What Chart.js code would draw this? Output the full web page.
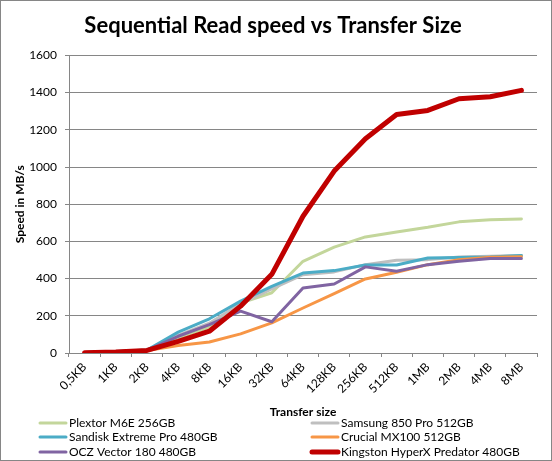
<!DOCTYPE html>
<html>
<head>
<meta charset="utf-8">
<title>Sequential Read speed vs Transfer Size</title>
<script src="https://cdn.jsdelivr.net/npm/chart.js@4.4.1/dist/chart.umd.min.js"></script>
<style>
  html, body { margin: 0; padding: 0; background: #fff; }
  #wrap { width: 552px; height: 461px; }
</style>
</head>
<body>
<div id="wrap"><canvas id="readChart" width="552" height="461"></canvas></div>
<script>
// Data (MB/s)
const transferSizes = ['0,5KB', '1KB', '2KB', '4KB', '8KB', '16KB', '32KB', '64KB', '128KB', '256KB', '512KB', '1MB', '2MB', '4MB', '8MB'];
const plextorM6E = [3, 7, 15, 82, 140, 268, 324, 493, 569, 624, 651, 676, 705, 716, 721];
const samsung850Pro = [3, 7, 15, 95, 160, 265, 345, 421, 436, 475, 499, 502, 516, 520, 524];
const sandiskExtremePro = [3, 8, 16, 112, 184, 279, 358, 430, 443, 473, 473, 511, 513, 516, 524];
const crucialMX100 = [2, 6, 14, 40, 59, 103, 162, 242, 319, 398, 434, 475, 502, 515, 517];
const oczVector180 = [3, 7, 15, 90, 153, 225, 168, 350, 371, 463, 440, 475, 493, 508, 508];
const kingstonPredator = [2, 6, 14, 63, 117, 252, 423, 735, 978, 1152, 1282, 1304, 1367, 1378, 1412];
const yTicks = [0, 200, 400, 600, 800, 1000, 1200, 1400, 1600];

const FONT = 'Lato, "Open Sans", sans-serif';
const GRID = '#868686';

function series(label, data, color, width, order) {
    return {
        label: label,
        data: data,
        borderColor: color,
        backgroundColor: color,
        borderWidth: width,
        pointRadius: 0,
        pointHoverRadius: 0,
        tension: 0,
        borderJoinStyle: 'round',
        borderCapStyle: 'round',
        order: order
    };
}

// white background + outer frame
const framePlugin = {
    id: 'frame',
    beforeDraw(chart) {
        const c = chart.ctx;
        c.save();
        c.fillStyle = '#fff';
        c.fillRect(0, 0, chart.width, chart.height);
        c.strokeStyle = GRID;
        c.lineWidth = 1;
        c.strokeRect(0.5, 0.5, chart.width - 1, chart.height - 1);
        c.restore();
    }
};

// two-column legend like the Excel one
const legendPlugin = {
    id: 'twoColLegend',
    afterDraw(chart) {
        const c = chart.ctx;
        const cols = [40, 312];
        const rows = [423, 437, 452];
        c.save();
        c.font = '12px ' + FONT;
        c.textBaseline = 'middle';
        c.fillStyle = '#000';
        chart.data.datasets.forEach(function(ds, i) {
            const x = cols[i % 2];
            const y = rows[Math.floor(i / 2)];
            c.strokeStyle = ds.borderColor;
            c.lineWidth = ds.borderWidth;
            c.lineCap = 'round';
            c.beginPath();
            c.moveTo(x, y);
            c.lineTo(x + 26, y);
            c.stroke();
            c.fillText(ds.label, x + 29, y);
        });
        c.restore();
    }
};

document.addEventListener('DOMContentLoaded', function() {
    const ctx = document.getElementById('readChart');
    new Chart(ctx, {
        type: 'line',
        data: {
            labels: transferSizes,
            datasets: [
                series('Plextor M6E 256GB', plextorM6E, '#C3D69B', 3, 6),
                series('Samsung 850 Pro 512GB', samsung850Pro, '#BFBFBF', 3, 5),
                series('Sandisk Extreme Pro 480GB', sandiskExtremePro, '#4BACC6', 3, 4),
                series('Crucial MX100 512GB', crucialMX100, '#F79646', 3, 3),
                series('OCZ Vector 180 480GB', oczVector180, '#8064A2', 3, 2),
                series('Kingston HyperX Predator 480GB', kingstonPredator, '#C00000', 5, 1)
            ]
        },
        plugins: [framePlugin, legendPlugin],
        options: {
            responsive: false,
            animation: false,
            devicePixelRatio: 1,
            layout: { padding: { left: 9, right: 15, top: 0, bottom: 38 } },
            plugins: {
                legend: { display: false },
                tooltip: { enabled: false },
                title: {
                    display: true,
                    text: 'Sequential Read speed vs Transfer Size',
                    color: '#000',
                    font: { family: FONT, size: 22, weight: 'bold' },
                    padding: { top: 13, bottom: 16 }
                }
            },
            scales: {
                x: {
                    offset: true,
                    grid: { drawOnChartArea: false, drawTicks: true, tickLength: 4, offset: true, color: GRID },
                    border: { color: GRID },
                    ticks: {
                        autoSkip: false,
                        minRotation: 45,
                        maxRotation: 45,
                        color: '#000',
                        font: { family: FONT, size: 12 }
                    },
                    title: {
                        display: true,
                        text: 'Transfer size',
                        color: '#000',
                        font: { family: FONT, size: 12, weight: 'bold' },
                        padding: { top: 4, bottom: 4 }
                    },
                    afterFit: function(scale) { scale.height = 70; }
                },
                y: {
                    min: 0,
                    max: 1600,
                    afterBuildTicks: function(scale) {
                        scale.ticks = yTicks.map(function(v) { return { value: v }; });
                    },
                    grid: { color: GRID, tickLength: 4 },
                    border: { color: GRID },
                    ticks: {
                        padding: 8,
                        color: '#000',
                        font: { family: FONT, size: 12 },
                        callback: function(value) { return String(value); }
                    },
                    title: {
                        display: true,
                        text: 'Speed in MB/s',
                        color: '#000',
                        font: { family: FONT, size: 12, weight: 'bold' },
                        padding: { top: 4, bottom: 4 }
                    },
                    afterFit: function(scale) { scale.width = 60; }
                }
            }
        }
    });
});
</script>
</body>
</html>
